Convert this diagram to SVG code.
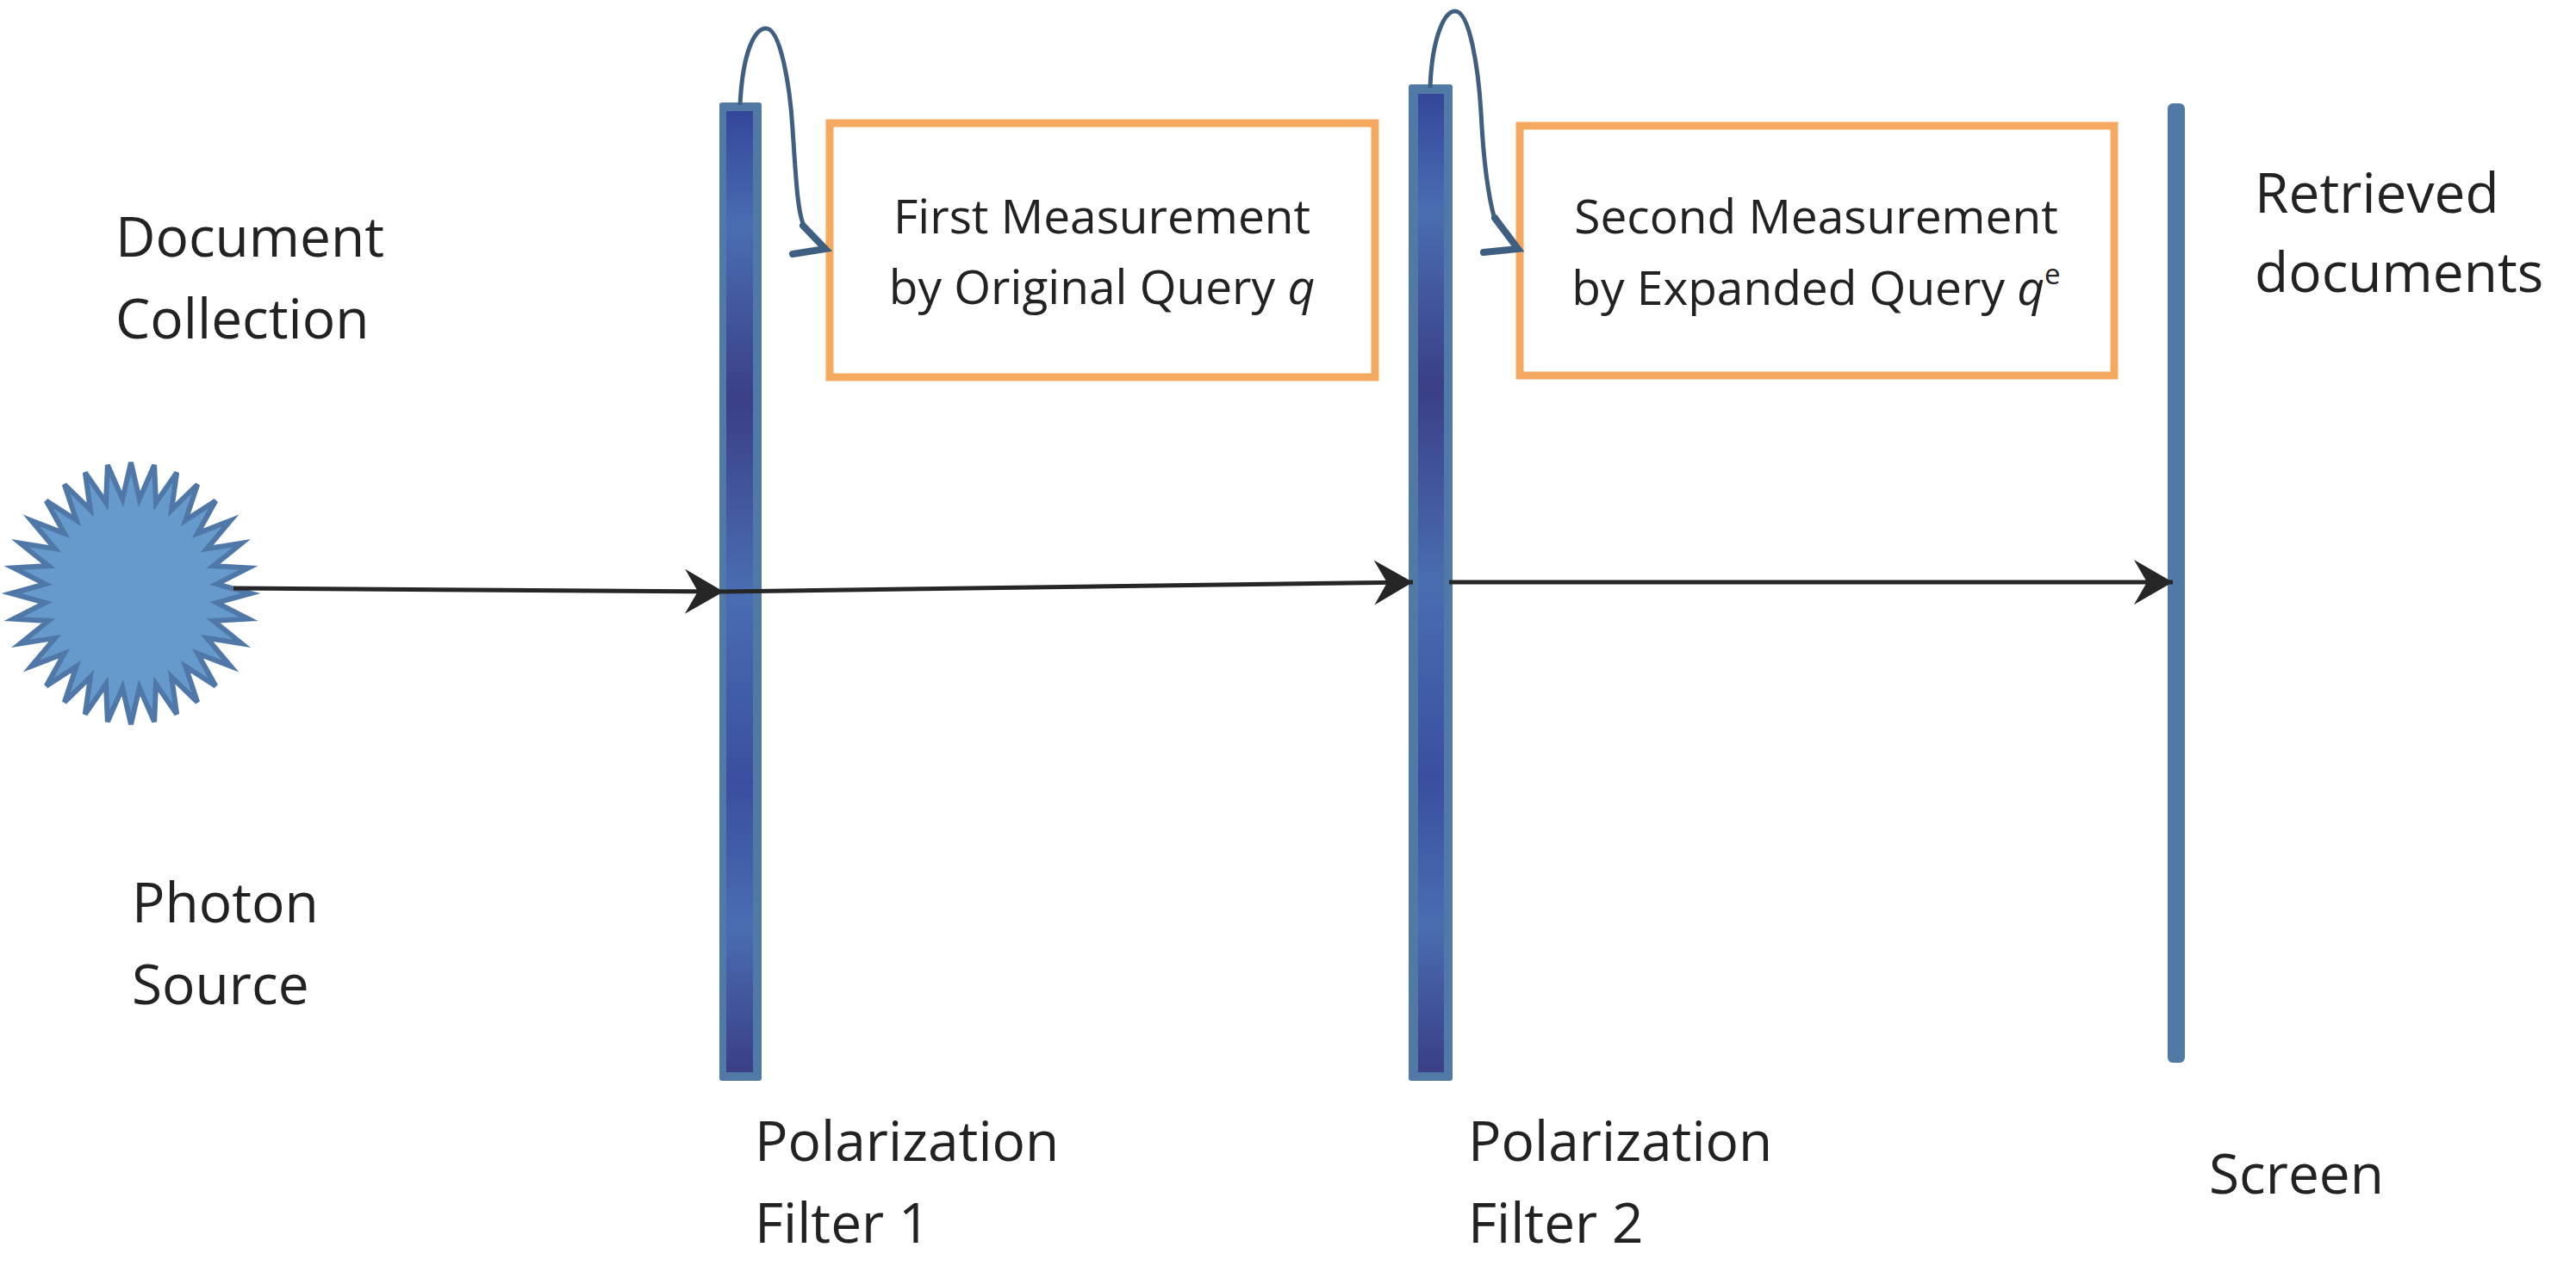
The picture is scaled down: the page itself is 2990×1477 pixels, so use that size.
<svg xmlns="http://www.w3.org/2000/svg" width="2990" height="1477" viewBox="0 0 2990 1477">
<style>
.t{font-family:"Open Sans","Noto Sans",sans-serif;font-size:64px;fill:#222}
.b{font-family:"Open Sans","Noto Sans",sans-serif;font-size:55px;fill:#222;text-anchor:middle}
.box{fill:#fff;stroke:#f4a95e;stroke-width:9}
.ray{stroke:#262626;stroke-width:5;fill:none}
.loop{stroke:#3e5f82;stroke-width:5;fill:none}
.tip{stroke:#3e5f82;stroke-width:8;fill:none;stroke-linecap:round}
.outer{fill:#5079a5}
</style>
<defs>
<linearGradient id="g" x1="0" y1="0" x2="0" y2="1">
<stop offset="0" stop-color="#34479a"/><stop offset="0.12" stop-color="#4a6db2"/><stop offset="0.3" stop-color="#3a3f86"/><stop offset="0.5" stop-color="#4a6db2"/><stop offset="0.7" stop-color="#3a4f9f"/><stop offset="0.85" stop-color="#4a6db2"/><stop offset="1" stop-color="#3a3f86"/>
</linearGradient>
<marker id="ah" viewBox="-50 -30 55 60" refX="0" refY="0" markerWidth="55" markerHeight="60" markerUnits="userSpaceOnUse" orient="auto">
<path d="M0,0 L-45,-26 L-30,0 L-45,26 Z" fill="#262626"/>
</marker>
</defs>
<g id="source">
<polygon fill="#6699cc" stroke="#4f78a8" stroke-width="6" points="291,689 251.5,699.8 288.3,718.7 247.7,720.9 280.4,747.2 240.2,740.9 267.6,773.5 229.3,758.8 250.3,796.5 215.4,774 229.2,815.4 199.1,786 205.2,829.4 181,794.3 179.1,838.1 161.8,798.5 152,841 142.2,798.5 124.9,838.1 123,794.3 98.8,829.4 104.9,786 74.8,815.4 88.6,774 53.7,796.5 74.7,758.8 36.4,773.5 63.8,740.9 23.6,747.2 56.3,720.9 15.7,718.7 52.5,699.8 13,689 52.5,678.2 15.7,659.3 56.3,657.1 23.6,630.8 63.8,637.1 36.4,604.5 74.7,619.2 53.7,581.5 88.6,604 74.8,562.6 104.9,592 98.8,548.6 123,583.7 124.9,539.9 142.2,579.5 152,537 161.8,579.5 179.1,539.9 181,583.7 205.2,548.6 199.1,592 229.2,562.6 215.4,604 250.3,581.5 229.3,619.2 267.6,604.5 240.2,637.1 280.4,630.8 247.7,657.1 288.3,659.3 251.5,678.2"/>
</g>
<g id="filter1">
<rect class="outer" x="835" y="119" width="49" height="1136" rx="3"/>
<rect x="843" y="129" width="31" height="1116" fill="url(#g)"/>
</g>
<g id="filter2">
<rect class="outer" x="1635" y="98" width="51" height="1157" rx="3"/>
<rect x="1646" y="109" width="30" height="1136" fill="url(#g)"/>
</g>
<g id="screen">
<rect class="outer" x="2516" y="120" width="20" height="1114" rx="6"/>
</g>
<g id="box1">
<rect class="box" x="963" y="143" width="633" height="295"/>
<text class="b" x="1279" y="271">First Measurement</text>
<text class="b" x="1279" y="353">by Original Query <tspan font-style="italic">q</tspan></text>
</g>
<g id="box2">
<rect class="box" x="1764" y="146" width="690" height="290"/>
<text class="b" x="2108" y="271">Second Measurement</text>
<text class="b" x="2108" y="354">by Expanded Query <tspan font-style="italic">q</tspan><tspan font-size="33" dy="-24">e</tspan></text>
</g>
<g id="labels">
<text class="t" x="134" y="298">Document</text>
<text class="t" x="134" y="393">Collection</text>
<text class="t" x="153" y="1071">Photon</text>
<text class="t" x="153" y="1166">Source</text>
<text class="t" x="876" y="1348">Polarization</text>
<text class="t" x="876" y="1443">Filter 1</text>
<text class="t" x="1704" y="1348">Polarization</text>
<text class="t" x="1704" y="1443">Filter 2</text>
<text class="t" x="2564" y="1386">Screen</text>
<text class="t" x="2617" y="247">Retrieved</text>
<text class="t" x="2617" y="339">documents</text>
</g>
<g id="connectors">
<path class="ray" d="M271,683 L840,687" marker-end="url(#ah)"/>
<path class="ray" d="M840,687 L1640,676" marker-end="url(#ah)"/>
<path class="ray" d="M1682,676 L2522,676" marker-end="url(#ah)"/>
<path class="loop" d="M859,122 C862,60 876,33 889,33 C906,33 917,100 920,150 C924,210 926,250 934,264"/>
<path class="tip" d="M932,262 L958,289 L920,295"/>
<path class="loop" d="M1660,102 C1662,45 1676,13 1689,13 C1706,13 1716,80 1719,130 C1722,190 1728,230 1735,255"/>
<path class="tip" d="M1735,253 L1762,289 L1722,293"/>
</g>
</svg>
